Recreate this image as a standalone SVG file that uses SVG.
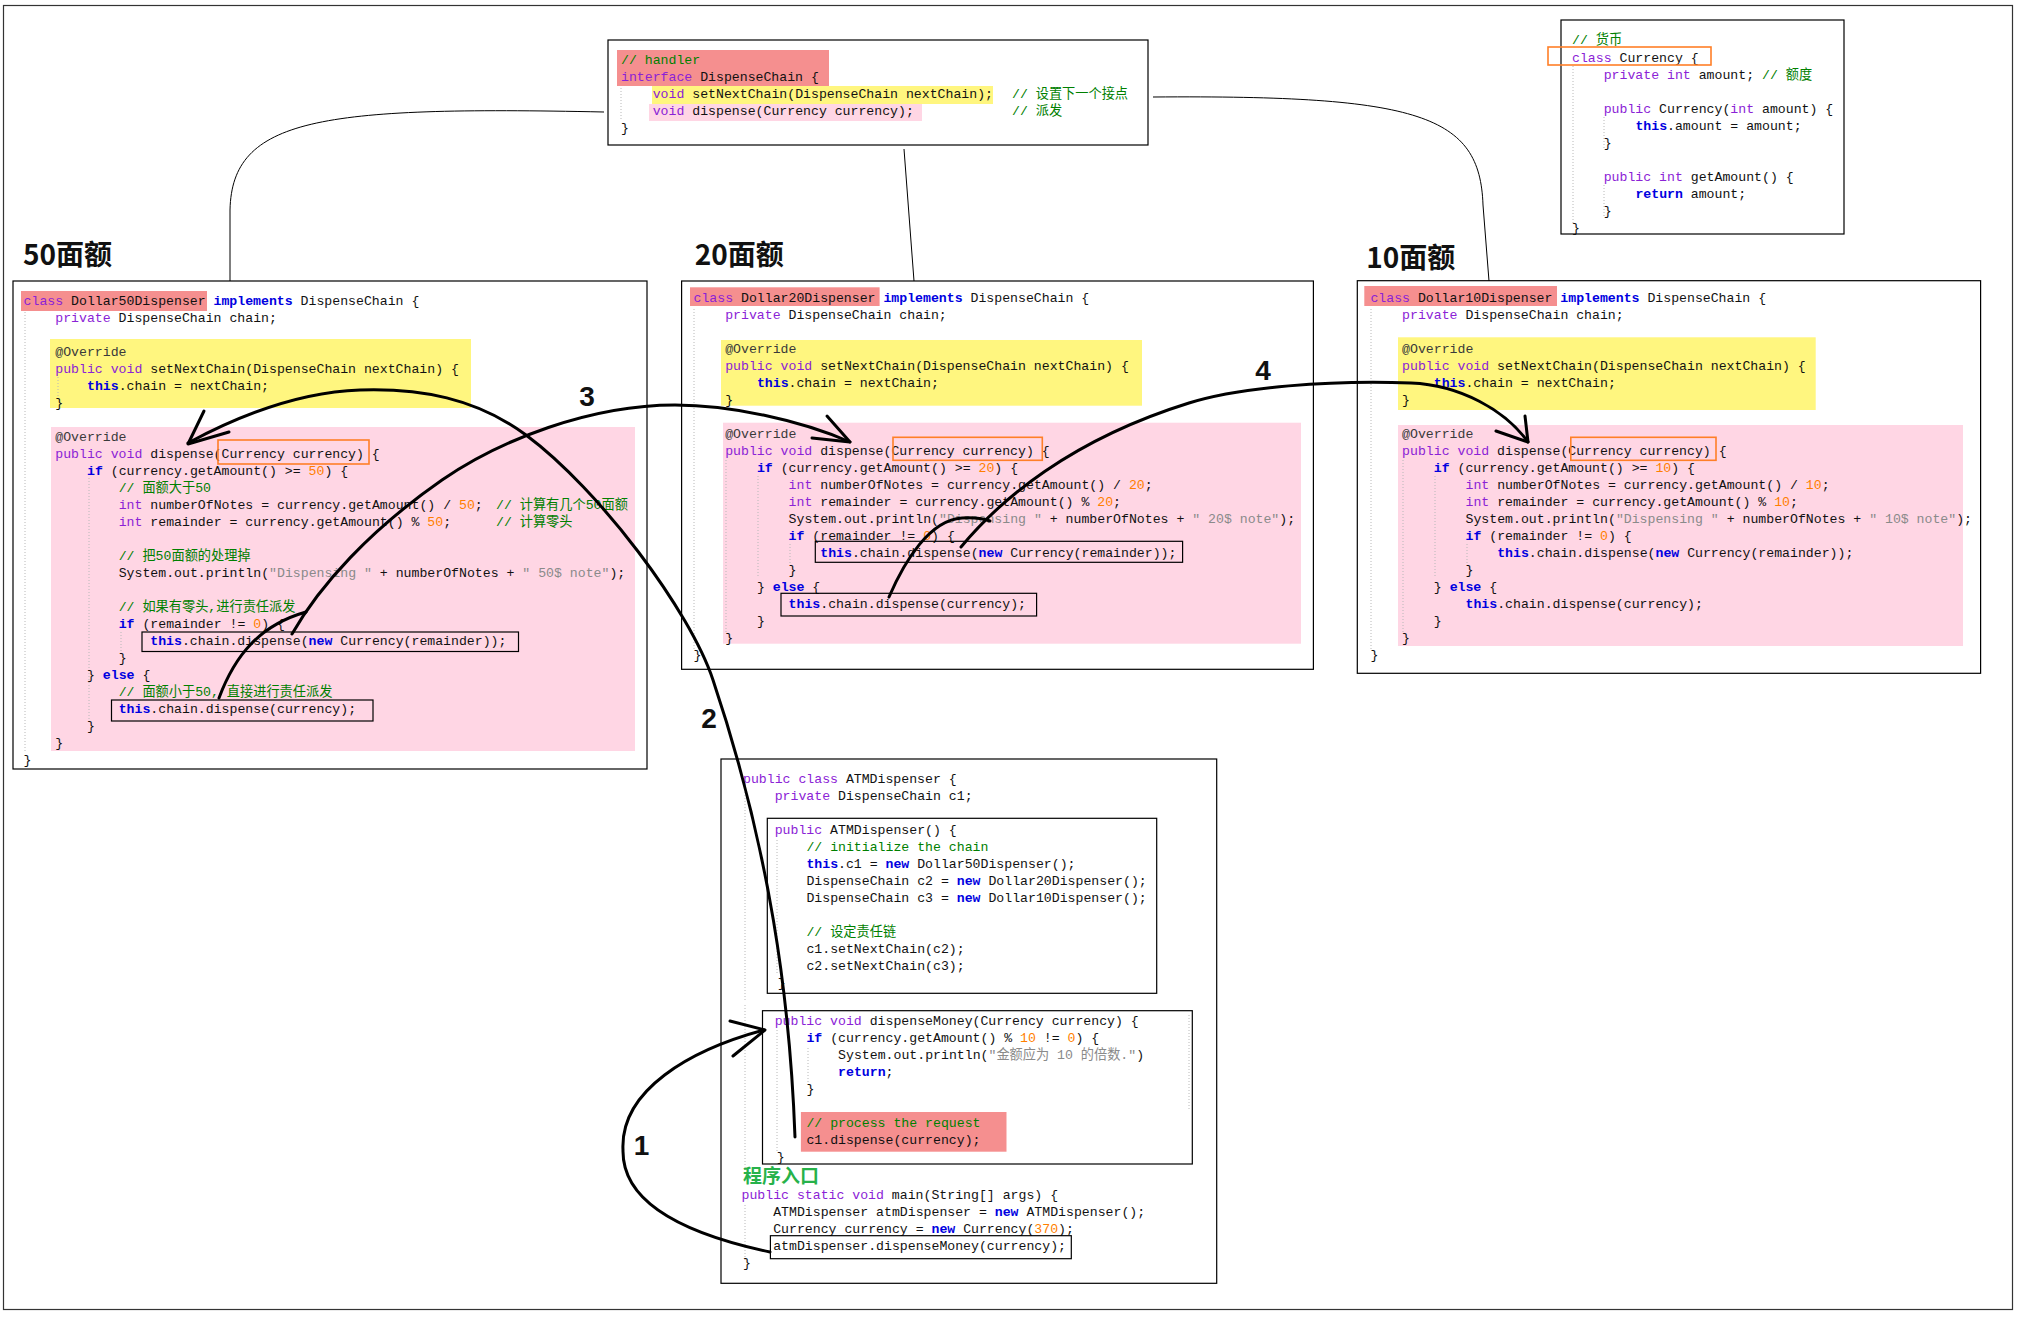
<svg xmlns="http://www.w3.org/2000/svg" width="2028" height="1330" viewBox="0 0 2028 1330" xml:space="preserve">
<style>
.c{font-family:"Liberation Mono","Noto Sans CJK SC",monospace;font-size:13.2px;fill:#111;white-space:pre}
.k{fill:#8b22d6}
.b{fill:#0000e0;font-weight:bold}
.g{fill:#008000}
.n{fill:#ff7f00}
.s{fill:#8a8a8a}
.a{fill:#3a3a3a}
.box{fill:#fff;stroke:#000;stroke-width:1.2}
.ibox{fill:none;stroke:#000;stroke-width:1.2}
.obox{fill:none;stroke:#ff7f27;stroke-width:1.6}
.red{fill:#f58f8f}
.yel{fill:#fff67f}
.pnk{fill:#ffd6e4}
.guide{stroke:#b8b8b8;stroke-width:1;stroke-dasharray:1 2;fill:none}
.title{font-family:"Noto Sans CJK SC","Noto Sans",sans-serif;font-size:28px;font-weight:bold;fill:#111}
.num{font-family:"Liberation Sans","Noto Sans",sans-serif;font-size:28px;font-weight:bold;fill:#111;text-anchor:middle}
.thin{fill:none;stroke:#000;stroke-width:1}
.thick{fill:none;stroke:#000;stroke-width:3;stroke-linecap:round;stroke-linejoin:round}
</style>
<rect x="3.5" y="5.5" width="2009" height="1304" fill="#fff" stroke="#333" stroke-width="1.2"/>

<g id="handler">
<rect x="608" y="40" width="540" height="105" class="box"/>
<rect x="617" y="50" width="212" height="36" class="red"/>
<rect x="652" y="86" width="341" height="18" class="yel"/>
<rect x="649" y="104" width="273" height="17" class="pnk"/>
<line x1="621" y1="88" x2="621" y2="120" class="guide"/>
<text class="c" x="621" y="63.5"><tspan class="g">// handler</tspan></text>
<text class="c" x="621" y="80.5"><tspan class="k">interface</tspan> DispenseChain {</text>
<text class="c" x="652.7" y="97.5"><tspan class="k">void</tspan> setNextChain(DispenseChain nextChain);</text>
<text class="c g" x="1012" y="97.5">// 设置下一个接点</text>
<text class="c" x="652.7" y="114.5"><tspan class="k">void</tspan> dispense(Currency currency);</text>
<text class="c g" x="1012" y="114.5">// 派发</text>
<text class="c" x="621" y="131.5">}</text>
</g>

<g id="currency">
<rect x="1561" y="20" width="283" height="214" class="box"/>
<line x1="1573" y1="66" x2="1573" y2="224" class="guide"/>
<line x1="1604" y1="117" x2="1604" y2="150" class="guide"/>
<line x1="1604" y1="185" x2="1604" y2="218" class="guide"/>
<text class="c" x="1572" y="43.5"><tspan class="g">// 货币</tspan></text>
<text class="c" x="1572" y="61.5"><tspan class="k">class</tspan> Currency {</text>
<text class="c" x="1603.7" y="78.5"><tspan class="k">private int</tspan> amount; <tspan class="g">// 额度</tspan></text>
<text class="c" x="1603.7" y="112.5"><tspan class="k">public</tspan> Currency(<tspan class="k">int</tspan> amount) {</text>
<text class="c" x="1635.4" y="129.5"><tspan class="b">this</tspan>.amount = amount;</text>
<text class="c" x="1603.7" y="146.5">}</text>
<text class="c" x="1603.7" y="180.5"><tspan class="k">public int</tspan> getAmount() {</text>
<text class="c" x="1635.4" y="197.5"><tspan class="b">return</tspan> amount;</text>
<text class="c" x="1603.7" y="214.5">}</text>
<text class="c" x="1572" y="231.5">}</text>
<rect x="1548" y="47" width="163" height="18" class="obox" stroke-width="2.5"/>
</g>

<g id="d50">
<text class="title" x="23" y="265">50面额</text>
<rect x="13" y="281" width="634" height="488" class="box"/>
<rect x="21" y="291" width="186" height="20" class="red"/>
<rect x="50" y="339" width="421" height="69" class="yel"/>
<rect x="51" y="427" width="584" height="324" class="pnk"/>
<line x1="25" y1="312" x2="25" y2="752" class="guide"/>
<line x1="58" y1="377" x2="58" y2="398" class="guide"/>
<line x1="89" y1="478" x2="89" y2="720" class="guide"/>
<line x1="121" y1="632" x2="121" y2="652" class="guide"/>
<text class="c" x="23.6" y="304.8"><tspan class="k">class</tspan> Dollar50Dispenser <tspan class="b">implements</tspan> DispenseChain {</text>
<text class="c" x="55.3" y="321.8"><tspan class="k">private</tspan> DispenseChain chain;</text>
<text class="c" x="55.3" y="355.5"><tspan class="a">@Override</tspan></text>
<text class="c" x="55.3" y="372.5"><tspan class="k">public void</tspan> setNextChain(DispenseChain nextChain) {</text>
<text class="c" x="87" y="389.5"><tspan class="b">this</tspan>.chain = nextChain;</text>
<text class="c" x="55.3" y="406.5">}</text>
<text class="c" x="55.3" y="440.5"><tspan class="a">@Override</tspan></text>
<text class="c" x="55.3" y="457.5"><tspan class="k">public void</tspan> dispense(Currency currency) {</text>
<text class="c" x="87" y="474.5"><tspan class="b">if</tspan> (currency.getAmount() &gt;= <tspan class="n">50</tspan>) {</text>
<text class="c" x="118.7" y="491.5"><tspan class="g">// 面额大于50</tspan></text>
<text class="c" x="118.7" y="508.5"><tspan class="k">int</tspan> numberOfNotes = currency.getAmount() / <tspan class="n">50</tspan>;</text>
<text class="c g" x="496" y="508.5">// 计算有几个50面额</text>
<text class="c" x="118.7" y="525.5"><tspan class="k">int</tspan> remainder = currency.getAmount() % <tspan class="n">50</tspan>;</text>
<text class="c g" x="496" y="525.5">// 计算零头</text>
<text class="c" x="118.7" y="559.5"><tspan class="g">// 把50面额的处理掉</tspan></text>
<text class="c" x="118.7" y="576.5">System.out.println(<tspan class="s">"Dispensing "</tspan> + numberOfNotes + <tspan class="s">" 50$ note"</tspan>);</text>
<text class="c" x="118.7" y="610.5"><tspan class="g">// 如果有零头,进行责任派发</tspan></text>
<text class="c" x="118.7" y="627.5"><tspan class="b">if</tspan> (remainder != <tspan class="n">0</tspan>) {</text>
<text class="c" x="150.3" y="644.5"><tspan class="b">this</tspan>.chain.dispense(<tspan class="b">new</tspan> Currency(remainder));</text>
<text class="c" x="118.7" y="661.5">}</text>
<text class="c" x="87" y="678.5">} <tspan class="b">else</tspan> {</text>
<text class="c" x="118.7" y="695.5"><tspan class="g">// 面额小于50, 直接进行责任派发</tspan></text>
<text class="c" x="118.7" y="712.5"><tspan class="b">this</tspan>.chain.dispense(currency);</text>
<text class="c" x="87" y="729.5">}</text>
<text class="c" x="55.3" y="746.5">}</text>
<text class="c" x="23.6" y="763.5">}</text>
<rect x="218" y="440" width="151" height="24" class="obox"/>
<rect x="142" y="632" width="376.5" height="19.5" class="ibox"/>
<rect x="111.5" y="700" width="261.5" height="21" class="ibox"/>
</g>

<g id="d20">
<text class="title" x="694.7" y="265">20面额</text>
<rect x="681.6" y="281" width="631.8" height="388.3" class="box"/>
<rect x="690" y="287.3" width="189.6" height="18.7" class="red"/>
<rect x="721" y="340" width="421" height="65.7" class="yel"/>
<rect x="723" y="422.7" width="578" height="221" class="pnk"/>
<line x1="694" y1="309" x2="694" y2="650" class="guide"/>
<line x1="726" y1="460" x2="726" y2="632" class="guide"/>
<line x1="758" y1="476" x2="758" y2="578" class="guide"/>
<line x1="790" y1="544" x2="790" y2="564" class="guide"/>
<text class="c" x="693.5" y="301.8"><tspan class="k">class</tspan> Dollar20Dispenser <tspan class="b">implements</tspan> DispenseChain {</text>
<text class="c" x="725.2" y="318.8"><tspan class="k">private</tspan> DispenseChain chain;</text>
<text class="c" x="725.2" y="352.8"><tspan class="a">@Override</tspan></text>
<text class="c" x="725.2" y="369.8"><tspan class="k">public void</tspan> setNextChain(DispenseChain nextChain) {</text>
<text class="c" x="756.9" y="386.8"><tspan class="b">this</tspan>.chain = nextChain;</text>
<text class="c" x="725.2" y="403.8">}</text>
<text class="c" x="725.2" y="437.8"><tspan class="a">@Override</tspan></text>
<text class="c" x="725.2" y="454.8"><tspan class="k">public void</tspan> dispense(Currency currency) {</text>
<text class="c" x="756.9" y="471.8"><tspan class="b">if</tspan> (currency.getAmount() &gt;= <tspan class="n">20</tspan>) {</text>
<text class="c" x="788.6" y="488.8"><tspan class="k">int</tspan> numberOfNotes = currency.getAmount() / <tspan class="n">20</tspan>;</text>
<text class="c" x="788.6" y="505.8"><tspan class="k">int</tspan> remainder = currency.getAmount() % <tspan class="n">20</tspan>;</text>
<text class="c" x="788.6" y="522.8">System.out.println(<tspan class="s">"Dispensing "</tspan> + numberOfNotes + <tspan class="s">" 20$ note"</tspan>);</text>
<text class="c" x="788.6" y="539.8"><tspan class="b">if</tspan> (remainder != <tspan class="n">0</tspan>) {</text>
<text class="c" x="820.3" y="556.8"><tspan class="b">this</tspan>.chain.dispense(<tspan class="b">new</tspan> Currency(remainder));</text>
<text class="c" x="788.6" y="573.8">}</text>
<text class="c" x="756.9" y="590.8">} <tspan class="b">else</tspan> {</text>
<text class="c" x="788.6" y="607.8"><tspan class="b">this</tspan>.chain.dispense(currency);</text>
<text class="c" x="756.9" y="624.8">}</text>
<text class="c" x="725.2" y="641.8">}</text>
<text class="c" x="693.5" y="658.8">}</text>
<rect x="893" y="437.3" width="149.3" height="23" class="obox"/>
<rect x="815.3" y="541.3" width="367.3" height="21" class="ibox"/>
<rect x="781" y="593.3" width="255.6" height="22.7" class="ibox"/>
</g>

<g id="d10">
<text class="title" x="1366.3" y="268">10面额</text>
<rect x="1357.3" y="280.7" width="623.3" height="392.6" class="box"/>
<rect x="1364.3" y="286" width="192.7" height="20" class="red"/>
<rect x="1398" y="337.3" width="417.7" height="72.7" class="yel"/>
<rect x="1398" y="425" width="565" height="221" class="pnk"/>
<line x1="1371" y1="309" x2="1371" y2="650" class="guide"/>
<line x1="1403" y1="460" x2="1403" y2="632" class="guide"/>
<line x1="1435" y1="476" x2="1435" y2="578" class="guide"/>
<line x1="1467" y1="544" x2="1467" y2="564" class="guide"/>
<text class="c" x="1370.4" y="301.8"><tspan class="k">class</tspan> Dollar10Dispenser <tspan class="b">implements</tspan> DispenseChain {</text>
<text class="c" x="1402.1" y="318.8"><tspan class="k">private</tspan> DispenseChain chain;</text>
<text class="c" x="1402.1" y="352.8"><tspan class="a">@Override</tspan></text>
<text class="c" x="1402.1" y="369.8"><tspan class="k">public void</tspan> setNextChain(DispenseChain nextChain) {</text>
<text class="c" x="1433.8" y="386.8"><tspan class="b">this</tspan>.chain = nextChain;</text>
<text class="c" x="1402.1" y="403.8">}</text>
<text class="c" x="1402.1" y="437.8"><tspan class="a">@Override</tspan></text>
<text class="c" x="1402.1" y="454.8"><tspan class="k">public void</tspan> dispense(Currency currency) {</text>
<text class="c" x="1433.8" y="471.8"><tspan class="b">if</tspan> (currency.getAmount() &gt;= <tspan class="n">10</tspan>) {</text>
<text class="c" x="1465.5" y="488.8"><tspan class="k">int</tspan> numberOfNotes = currency.getAmount() / <tspan class="n">10</tspan>;</text>
<text class="c" x="1465.5" y="505.8"><tspan class="k">int</tspan> remainder = currency.getAmount() % <tspan class="n">10</tspan>;</text>
<text class="c" x="1465.5" y="522.8">System.out.println(<tspan class="s">"Dispensing "</tspan> + numberOfNotes + <tspan class="s">" 10$ note"</tspan>);</text>
<text class="c" x="1465.5" y="539.8"><tspan class="b">if</tspan> (remainder != <tspan class="n">0</tspan>) {</text>
<text class="c" x="1497.2" y="556.8"><tspan class="b">this</tspan>.chain.dispense(<tspan class="b">new</tspan> Currency(remainder));</text>
<text class="c" x="1465.5" y="573.8">}</text>
<text class="c" x="1433.8" y="590.8">} <tspan class="b">else</tspan> {</text>
<text class="c" x="1465.5" y="607.8"><tspan class="b">this</tspan>.chain.dispense(currency);</text>
<text class="c" x="1433.8" y="624.8">}</text>
<text class="c" x="1402.1" y="641.8">}</text>
<text class="c" x="1370.4" y="658.8">}</text>
<rect x="1570.8" y="437.3" width="145.2" height="23" class="obox"/>
</g>

<g id="atm">
<rect x="721" y="759" width="495.7" height="524.3" class="box"/>
<line x1="745" y1="789" x2="745" y2="1000" class="guide"/>
<line x1="745" y1="1005" x2="745" y2="1170" class="guide"/>
<line x1="745" y1="1205" x2="745" y2="1262" class="guide"/>
<line x1="777" y1="840" x2="777" y2="975" class="guide"/>
<line x1="777" y1="1030" x2="777" y2="1152" class="guide"/>
<line x1="808" y1="1048" x2="808" y2="1082" class="guide"/>
<line x1="1189" y1="1015" x2="1189" y2="1110" class="guide"/>
<text class="c" x="743" y="782.8"><tspan class="k">public class</tspan> ATMDispenser {</text>
<text class="c" x="774.7" y="799.8"><tspan class="k">private</tspan> DispenseChain c1;</text>
<rect x="767.3" y="818.3" width="389.4" height="175" class="ibox"/>
<text class="c" x="774.7" y="833.5"><tspan class="k">public</tspan> ATMDispenser() {</text>
<text class="c" x="806.4" y="850.5"><tspan class="g">// initialize the chain</tspan></text>
<text class="c" x="806.4" y="867.5"><tspan class="b">this</tspan>.c1 = <tspan class="b">new</tspan> Dollar50Dispenser();</text>
<text class="c" x="806.4" y="884.5">DispenseChain c2 = <tspan class="b">new</tspan> Dollar20Dispenser();</text>
<text class="c" x="806.4" y="901.5">DispenseChain c3 = <tspan class="b">new</tspan> Dollar10Dispenser();</text>
<text class="c" x="806.4" y="935.5"><tspan class="g">// 设定责任链</tspan></text>
<text class="c" x="806.4" y="952.5">c1.setNextChain(c2);</text>
<text class="c" x="806.4" y="969.5">c2.setNextChain(c3);</text>
<text class="c" x="777.7" y="986.8">}</text>
<rect x="762.5" y="1010.7" width="429.8" height="153.3" class="ibox"/>
<rect x="800.9" y="1112" width="205.6" height="39.7" class="red"/>
<text class="c" x="774.7" y="1024.8"><tspan class="k">public void</tspan> dispenseMoney(Currency currency) {</text>
<text class="c" x="806.4" y="1041.8"><tspan class="b">if</tspan> (currency.getAmount() % <tspan class="n">10</tspan> != <tspan class="n">0</tspan>) {</text>
<text class="c" x="838.1" y="1058.5">System.out.println(<tspan class="s">"金额应为 10 的倍数."</tspan>)</text>
<text class="c" x="838.1" y="1075.5"><tspan class="b">return</tspan>;</text>
<text class="c" x="806.4" y="1092.8">}</text>
<text class="c" x="806.4" y="1126.8"><tspan class="g">// process the request</tspan></text>
<text class="c" x="806.4" y="1143.8">c1.dispense(currency);</text>
<text class="c" x="776.7" y="1160.8">}</text>
<text x="743" y="1183" font-family="'Noto Sans CJK SC',sans-serif" font-size="19" font-weight="bold" fill="#27b24a">程序入口</text>
<text class="c" x="741.5" y="1198.5"><tspan class="k">public static void</tspan> main(String[] args) {</text>
<text class="c" x="773.2" y="1215.8">ATMDispenser atmDispenser = <tspan class="b">new</tspan> ATMDispenser();</text>
<text class="c" x="773.2" y="1232.8">Currency currency = <tspan class="b">new</tspan> Currency(<tspan class="n">370</tspan>);</text>
<text class="c" x="773.2" y="1249.8">atmDispenser.dispenseMoney(currency);</text>
<rect x="770.4" y="1235.7" width="300.9" height="23" class="ibox"/>
<text class="c" x="743" y="1267.2">}</text>
</g>

<g id="connectors">
<path class="thin" d="M604,112 C320,106 232,118 230,210 L230,281"/>
<path class="thin" d="M904,149 L914,281"/>
<path class="thin" d="M1153,97 C1420,95 1480,115 1483,205 L1489,281"/>

<path class="thick" d="M770,1252 C690,1235 622,1205 623,1150 C620,1090 690,1050 764,1030"/>
<path class="thick" d="M730,1021 L765,1030 L733,1056"/>
<text class="num" x="641.5" y="1155">1</text>

<path class="thick" d="M795,1137 C790,1000 770,850 713,680 C690,611 600,490 526,435 C476,398 420,388 360,390 C300,392 240,415 188,443"/>
<path class="thick" d="M204,411 L188,444 L229,432"/>
<text class="num" x="709" y="728">2</text>

<path class="thick" d="M292,634 C320,585 370,530 442,480 C500,440 590,405 675,405 C730,405 800,420 850,442"/>
<path class="thick" d="M219,698 C235,655 260,625 306,612"/>
<path class="thick" d="M827,416 L850,442 L812,438"/>
<text class="num" x="587" y="406">3</text>

<path class="thick" d="M961,547 C1000,500 1070,440 1189,403 C1240,387 1330,380 1411,383 C1460,385 1505,410 1528,442"/>
<path class="thick" d="M889,597 C905,560 930,520 962,518 Q978,517 990,521"/>
<path class="thick" d="M1525,416 L1528,442 L1496,431"/>
<text class="num" x="1263" y="380">4</text>
</g>
</svg>
